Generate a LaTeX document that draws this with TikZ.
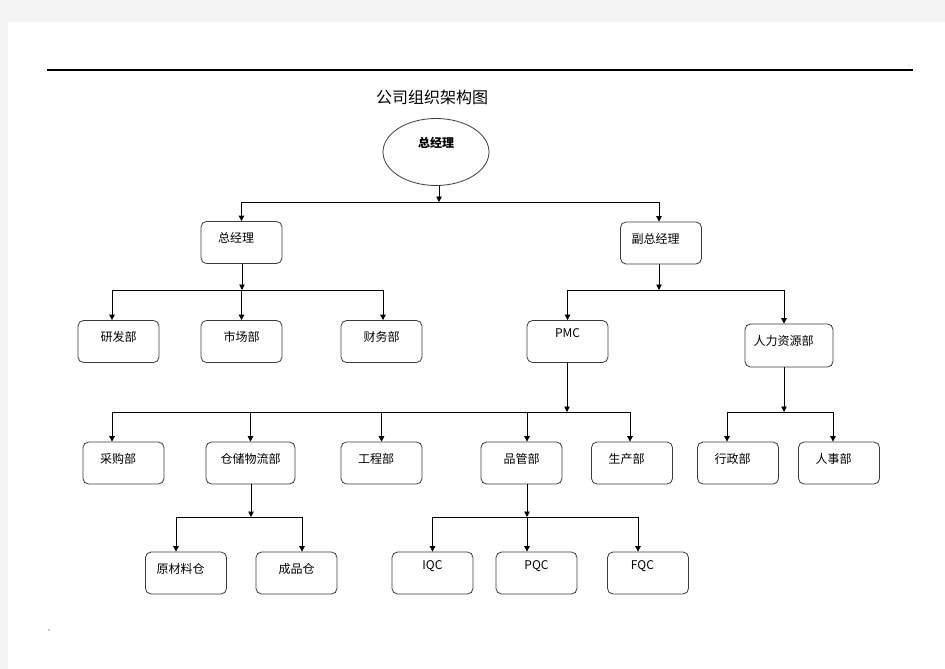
\documentclass[tikz,border=0pt]{standalone}
\usepackage{fontspec}
\setmainfont{Noto Sans CJK SC}
\usepackage{tikz}
\usetikzlibrary{shapes.geometric,arrows.meta}
\definecolor{pagegray}{RGB}{243,243,243}
\definecolor{boxline}{RGB}{60,60,60}

\begin{document}
\begin{tikzpicture}
  [x=1pt,y=-1pt,
   dept/.style={draw=boxline,line width=0.8pt,rounded corners=5.5pt,
     minimum width=81pt,minimum height=42pt,inner sep=0pt,
     font=\fontsize{12}{14}\selectfont,text height=10pt,text depth=10pt},
   qc/.style={dept,text height=6pt,text depth=14pt},
   tl/.style={execute at begin node={\hspace*{-11pt}}},
   boss/.style={ellipse,draw=boxline,line width=0.8pt,minimum width=106pt,
     minimum height=67pt,inner sep=0pt,font=\bfseries\fontsize{12}{14}\selectfont,
     text height=8pt,text depth=18pt},
   arr/.style={line width=0.9pt,-{Triangle[length=5.5pt,width=5.5pt]}}]
  \useasboundingbox (0,0) rectangle (945,669);
  \fill[pagegray] (0,0) rectangle (945,669);
  \fill[white] (8,22) rectangle (945,669);

  \draw[line width=1.2pt] (47,70) -- (913,70);
  \node[font=\fontsize{4}{4}\selectfont,inner sep=0pt] (dots) at (909,66) {..};
  \node[font=\fontsize{4}{4}\selectfont,inner sep=0pt] (mark) at (49,630) {;,};
  \node[font=\fontsize{16}{19}\selectfont] (title) at (432,97) {公司组织架构图};

  \node[boss] (ceo) at (436,152) {总经理};
  \node[dept,tl] (gm)  at (241.5,242.5) {总经理};
  \node[dept,tl] (vgm) at (661,243) {副总经理};

  \node[dept] (yf)  at (118.5,341.5) {研发部};
  \node[dept] (sc)  at (241.5,341.5) {市场部};
  \node[dept] (cw)  at (381.5,341.5) {财务部};
  \node[qc]   (pmc) at (567.5,341.5) {PMC};
  \node[dept,tl,minimum width=88pt,minimum height=43pt] (hr) at (789,345.5) {人力资源部};

  \node[dept,tl] (cg)  at (123.5,463) {采购部};
  \node[dept,minimum width=89pt] (cc) at (250.5,463) {仓储物流部};
  \node[dept,tl] (gc)  at (381.5,463) {工程部};
  \node[dept] (pg)  at (521.5,463) {品管部};
  \node[dept,tl] (scb) at (632,463) {生产部};
  \node[dept,tl] (xz)  at (738,463) {行政部};
  \node[dept,tl] (rs)  at (839,463) {人事部};

  \node[dept,tl] (ycl) at (186,573) {原材料仓};
  \node[dept] (cp)  at (296.5,573) {成品仓};
  \node[qc]   (iqc) at (432.5,573) {IQC};
  \node[qc]   (pqc) at (536.5,573) {PQC};
  \node[qc,tl] (fqc) at (648,573) {FQC};

  % bus points
  \coordinate (b1) at (439,202);
  \coordinate (b2) at (242,290);
  \coordinate (b3) at (659,290);
  \coordinate (b4) at (567,412);
  \coordinate (b5) at (784,412);
  \coordinate (b6) at (251,517);
  \coordinate (b7) at (527,517);

  \foreach \from/\bus in {ceo/b1,gm/b2,vgm/b3,pmc/b4,hr/b5,cc/b6,pg/b7}
    \draw[arr] (\bus |- \from.south) -- (\bus);

  \foreach \bus/\to/\dx in {b1/gm/0,b1/vgm/-2,
      b2/yf/-6.5,b2/sc/0,b2/cw/1.5,
      b3/pmc/0,b3/hr/-5,
      b4/cg/-11.5,b4/cc/0,b4/gc/0,b4/pg/5.5,b4/scb/-2,
      b5/xz/-11,b5/rs/-6,
      b6/ycl/-10,b6/cp/5.5,
      b7/iqc/0,b7/pqc/-9.5,b7/fqc/-10}
    \draw[arr] (\bus) -| ([xshift=\dx]\to.north);

\end{tikzpicture}
\end{document}
